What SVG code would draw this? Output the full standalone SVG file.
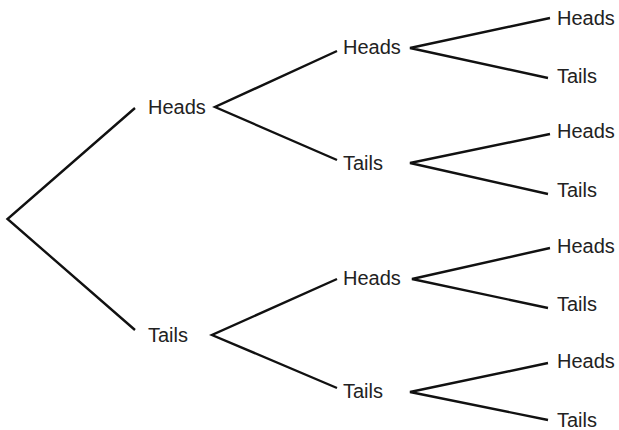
<svg xmlns="http://www.w3.org/2000/svg" width="619" height="430" viewBox="0 0 619 430">
<style>
.e{stroke:#111;stroke-width:2.4;fill:none;stroke-linecap:butt;stroke-linejoin:miter}
text{font-family:"Liberation Sans",Arial,sans-serif;font-size:20px;fill:#222}
</style>
<rect width="619" height="430" fill="#fff"/>
<g id="connectors">
<polyline class="e" points="135,108 7.5,219 135,330"/>
<polyline class="e" points="337,51 215,107 337,160"/>
<polyline class="e" points="337,279 212,335 337,388"/>
<polyline class="e" points="550,18 410,48 548,78"/>
<polyline class="e" points="550,134 410,163 548,194"/>
<polyline class="e" points="550,248 412,279 548,308"/>
<polyline class="e" points="548,363 410,392 548,420"/>
</g>
<g id="n1"><text x="148" y="114">Heads</text></g>
<g id="n2"><text x="148" y="342">Tails</text></g>
<g id="n3"><text x="343" y="54">Heads</text></g>
<g id="n4"><text x="343" y="170">Tails</text></g>
<g id="n5"><text x="343" y="285">Heads</text></g>
<g id="n6"><text x="343" y="398">Tails</text></g>
<g id="n7"><text x="557" y="25">Heads</text></g>
<g id="n8"><text x="557" y="83">Tails</text></g>
<g id="n9"><text x="557" y="138">Heads</text></g>
<g id="n10"><text x="557" y="197">Tails</text></g>
<g id="n11"><text x="557" y="253">Heads</text></g>
<g id="n12"><text x="557" y="311">Tails</text></g>
<g id="n13"><text x="557" y="368">Heads</text></g>
<g id="n14"><text x="557" y="427">Tails</text></g>
</svg>
